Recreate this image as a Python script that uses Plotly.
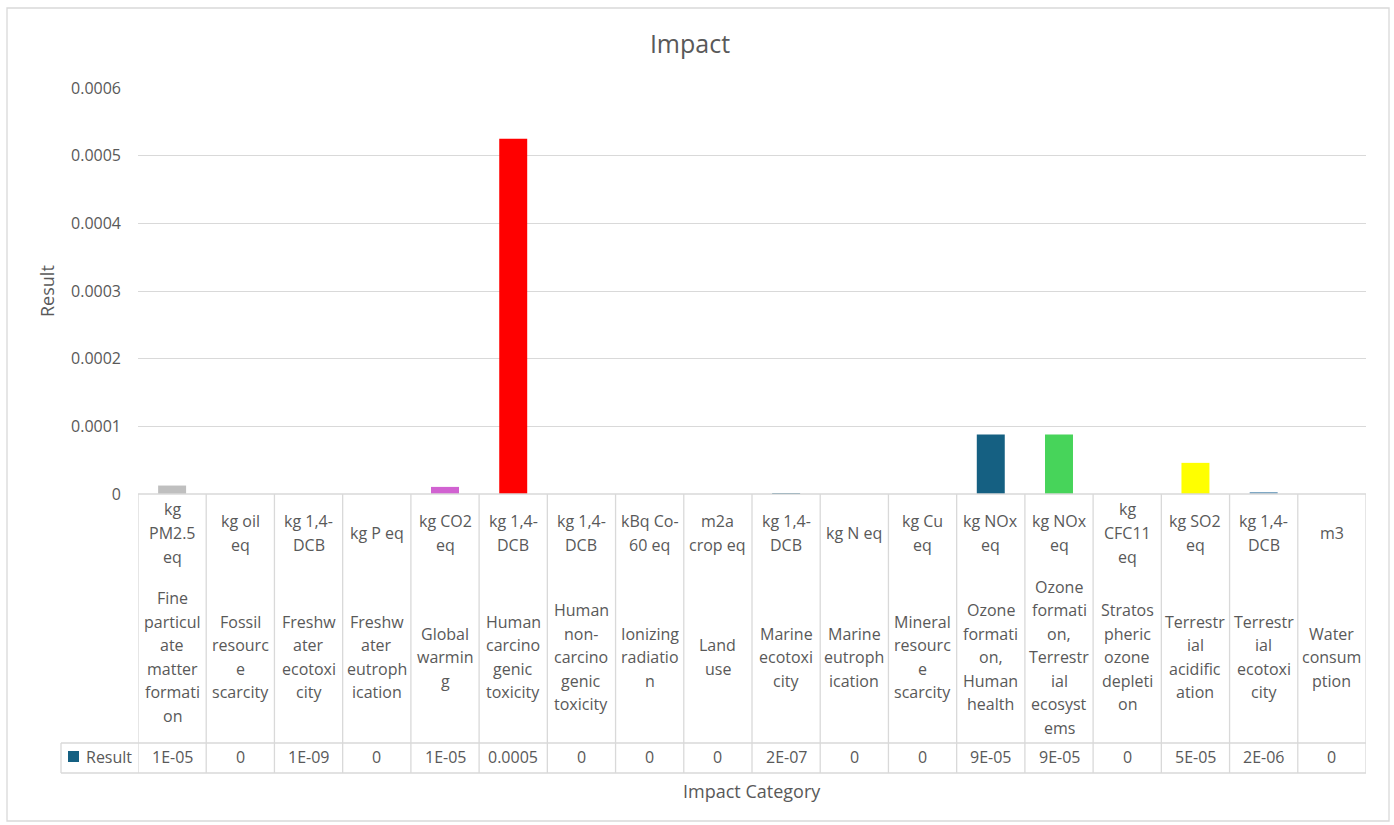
import plotly.graph_objects as go

# ---------------- data ----------------
categories = [
    "Fine particulate matter formation", "Fossil resource scarcity", "Freshwater ecotoxicity",
    "Freshwater eutrophication", "Global warming", "Human carcinogenic toxicity",
    "Human non-carcinogenic toxicity", "Ionizing radiation", "Land use", "Marine ecotoxicity",
    "Marine eutrophication", "Mineral resource scarcity", "Ozone formation, Human health",
    "Ozone formation, Terrestrial ecosystems", "Stratospheric ozone depletion",
    "Terrestrial acidification", "Terrestrial ecotoxicity", "Water consumption",
]
units = [
    "kg PM2.5 eq", "kg oil eq", "kg 1,4-DCB", "kg P eq", "kg CO2 eq", "kg 1,4-DCB",
    "kg 1,4-DCB", "kBq Co-60 eq", "m2a crop eq", "kg 1,4-DCB", "kg N eq", "kg Cu eq",
    "kg NOx eq", "kg NOx eq", "kg CFC11 eq", "kg SO2 eq", "kg 1,4-DCB", "m3",
]
results = [
    1.25e-05, 0, 1e-09, 0, 1.05e-05, 5.25e-04, 0, 0, 0, 2e-07,
    0, 0, 8.8e-05, 8.8e-05, 0, 4.6e-05, 2.4e-06, 0,
]
# labels as wrapped inside the data-table cells
unit_lines = [
    ["kg", "PM2.5", "eq"], ["kg oil", "eq"], ["kg 1,4-", "DCB"], ["kg P eq"], ["kg CO2", "eq"],
    ["kg 1,4-", "DCB"], ["kg 1,4-", "DCB"], ["kBq Co-", "60 eq"], ["m2a", "crop eq"],
    ["kg 1,4-", "DCB"], ["kg N eq"], ["kg Cu", "eq"], ["kg NOx", "eq"], ["kg NOx", "eq"],
    ["kg", "CFC11", "eq"], ["kg SO2", "eq"], ["kg 1,4-", "DCB"], ["m3"],
]
name_lines = [
    ["Fine", "particul", "ate", "matter", "formati", "on"],
    ["Fossil", "resourc", "e", "scarcity"],
    ["Freshw", "ater", "ecotoxi", "city"],
    ["Freshw", "ater", "eutroph", "ication"],
    ["Global", "warmin", "g"],
    ["Human", "carcino", "genic", "toxicity"],
    ["Human", "non-", "carcino", "genic", "toxicity"],
    ["Ionizing", "radiatio", "n"],
    ["Land", "use"],
    ["Marine", "ecotoxi", "city"],
    ["Marine", "eutroph", "ication"],
    ["Mineral", "resourc", "e", "scarcity"],
    ["Ozone", "formati", "on,", "Human", "health"],
    ["Ozone", "formati", "on,", "Terrestr", "ial", "ecosyst", "ems"],
    ["Stratos", "pheric", "ozone", "depleti", "on"],
    ["Terrestr", "ial", "acidific", "ation"],
    ["Terrestr", "ial", "ecotoxi", "city"],
    ["Water", "consum", "ption"],
]
bar_colors = [
    "#BFBFBF", "#156082", "#156082", "#156082", "#D162D1", "#FF0000",
    "#156082", "#156082", "#156082", "#156082", "#156082", "#156082",
    "#156082", "#47D45A", "#156082", "#FFFF00", "#7FA8C4", "#156082",
]
y_ticks = [0, 0.0001, 0.0002, 0.0003, 0.0004, 0.0005, 0.0006]
y_tick_labels = ["0", "0.0001", "0.0002", "0.0003", "0.0004", "0.0005", "0.0006"]
series_name = "Result"

# ---------------- layout geometry ----------------
W, H = 1394, 825
L, R, T, B = 138, 28, 88, 331
PW, PH = W - L - R, H - T - B
TXT = "#595959"
LINE = "#D9D9D9"
FONT = "Open Sans"


def xp(px):
    return (px - L) / PW


def yp(py):
    return (H - B - py) / PH


def fmt(v):
    if v == 0:
        return "0"
    if v >= 1e-4:
        return f"{v:.4f}"
    return f"{v:.0E}"


fig = go.Figure(
    go.Bar(
        x=categories, y=results, marker=dict(color=bar_colors, line=dict(width=0)),
        width=0.41, name=series_name, showlegend=False, hoverinfo="x+y",
    )
)

annotations = []
shapes = []
n = len(categories)
step = 23.5
cell_font = dict(size=16, color=TXT, family=FONT)
for i, cat in enumerate(categories):
    ul = unit_lines[i]
    for k, t in enumerate(ul):
        py = 533 + (k - (len(ul) - 1) / 2) * step
        annotations.append(dict(x=cat, xref="x", y=yp(py), yref="paper", text=t,
                                showarrow=False, xanchor="center", yanchor="middle",
                                font=cell_font))
    nl = name_lines[i]
    for k, t in enumerate(nl):
        py = 657 + (k - (len(nl) - 1) / 2) * step
        annotations.append(dict(x=cat, xref="x", y=yp(py), yref="paper", text=t,
                                showarrow=False, xanchor="center", yanchor="middle",
                                font=cell_font))
    annotations.append(dict(x=cat, xref="x", y=yp(757), yref="paper", text=fmt(results[i]),
                            showarrow=False, xanchor="center", yanchor="middle",
                            font=cell_font))

# table grid lines
for j in range(n + 1):
    shapes.append(dict(type="line", xref="x", yref="paper", x0=j - 0.5, x1=j - 0.5,
                       y0=yp(494), y1=yp(773), line=dict(color=LINE, width=1.3)))
shapes.append(dict(type="line", xref="x", yref="paper", x0=-0.5, x1=n - 0.5,
                   y0=yp(494), y1=yp(494), line=dict(color=LINE, width=1.3)))
for py in (743, 773):
    shapes.append(dict(type="line", xref="paper", yref="paper", x0=xp(61), x1=1,
                       y0=yp(py), y1=yp(py), line=dict(color=LINE, width=1.3)))
shapes.append(dict(type="line", xref="paper", yref="paper", x0=xp(61), x1=xp(61),
                   y0=yp(743), y1=yp(773), line=dict(color=LINE, width=1.3)))
# legend key in table
shapes.append(dict(type="rect", xref="paper", yref="paper", x0=xp(68), x1=xp(79),
                   y0=yp(762), y1=yp(751), fillcolor="#156082", line=dict(width=0)))
annotations.append(dict(x=xp(84), xref="paper", y=yp(757), yref="paper", text=series_name,
                        showarrow=False, xanchor="left", yanchor="middle", font=cell_font))
# chart border
shapes.append(dict(type="rect", xref="paper", yref="paper", x0=xp(7), x1=xp(1389),
                   y0=yp(821), y1=yp(8), line=dict(color=LINE, width=1.3),
                   fillcolor="rgba(0,0,0,0)", layer="below"))

# axis titles
annotations.append(dict(x=xp(752), xref="paper", y=yp(791), yref="paper", text="Impact Category",
                        showarrow=False, xanchor="center", yanchor="middle",
                        font=dict(size=18, color=TXT, family=FONT)))
annotations.append(dict(x=xp(47), xref="paper", y=yp(291), yref="paper", text="Result",
                        showarrow=False, xanchor="center", yanchor="middle", textangle=-90,
                        font=dict(size=18, color=TXT, family=FONT)))

fig.update_layout(
    width=W, height=H,
    margin=dict(l=L, r=R, t=T, b=B, autoexpand=False),
    paper_bgcolor="white", plot_bgcolor="white",
    font=dict(family=FONT, color=TXT),
    title=dict(text="Impact", x=690 / W, xanchor="center", y=1 - 44 / H, yanchor="middle",
               font=dict(size=25, color=TXT, family=FONT)),
    xaxis=dict(type="category", showticklabels=False, showgrid=False, showline=False,
               zeroline=False, ticks="", range=[-0.5, n - 0.5], automargin=False),
    yaxis=dict(range=[0, 0.0006], tickvals=y_ticks, ticktext=y_tick_labels,
               showgrid=True, gridcolor=LINE, gridwidth=1.3, zeroline=False, showline=False,
               ticks="", ticklabelstandoff=16, tickfont=dict(size=16, color=TXT, family=FONT),
               automargin=False),
    annotations=annotations, shapes=shapes, bargap=0.59,
)

fig.write_html("out.html")
